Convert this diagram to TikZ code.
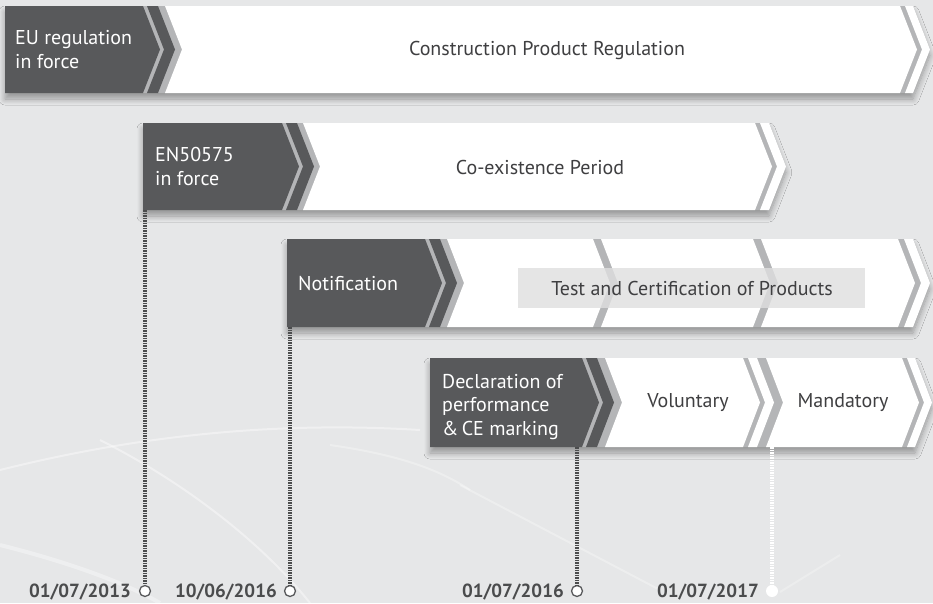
\documentclass[tikz,border=0pt]{standalone}
\usepackage{fontspec}
\setmainfont{PT Sans}
\usetikzlibrary{shadows.blur}
\definecolor{bg}{HTML}{E6E7E8}
\definecolor{dk}{HTML}{58595B}
\definecolor{gapc}{HTML}{B4B5B7}
\definecolor{txt}{HTML}{3F3F41}
\newcommand\segN[5]{\fill[#5] (#1,#3) -- (#2,#3) -- ({#2+17},{(#3+#4)/2}) -- (#2,#4) -- (#1,#4) -- ({#1+17},{(#3+#4)/2}) -- cycle;}
\newcommand\segF[5]{\fill[#5] (#1,#3) -- (#2,#3) -- ({#2+17},{(#3+#4)/2}) -- (#2,#4) -- (#1,#4) -- cycle;}
\newcommand\rowbg[4]{\fill[gapc, blur shadow={shadow xshift=0pt, shadow yshift=-6pt, shadow blur radius=6pt, shadow blur steps=10, shadow opacity=35}] (#1,#3) -- (#2,#3) -- ({#2+17},{(#3+#4)/2}) -- (#2,#4) -- (#1,#4) -- cycle;}
\tikzset{
  lbl/.style={font=\fontsize{20}{23.5}\selectfont, inner sep=0pt},
  darklbl/.style={lbl, text=white, align=left, anchor=base west},
  lightlbl/.style={lbl, text=txt, anchor=center},
  datelbl/.style={font=\fontsize{19}{22}\selectfont\bfseries, text=dk!85!black, anchor=base east, inner sep=0pt},
  datedot/.style={circle, draw=dk, fill=white, line width=1.3pt, minimum size=11pt, inner sep=0pt},
  dotline/.style={dk!85!black, line width=3.2pt, dash pattern=on 1.7pt off 0.8pt},
  swoosh/.style={white, opacity=0.4, line width=2pt}
}
\begin{document}
\begin{tikzpicture}[x=1pt, y=-1pt]
\fill[bg] (0,0) rectangle (933,603);
\useasboundingbox (0,0) rectangle (933,603);
% background swooshes
\draw[swoosh] (0,470) .. controls (120,440) and (260,420) .. (420,430);
\draw[swoosh] (100,440) .. controls (180,480) and (260,540) .. (310,603);
\draw[swoosh, opacity=0.35, line width=4pt] (0,545) .. controls (60,560) and (120,580) .. (160,603);
\draw[swoosh, opacity=0.3] (330,445) .. controls (400,455) and (440,470) .. (470,490);
\draw[swoosh, opacity=0.3] (460,485) -- (660,590);
\draw[swoosh, opacity=0.25] (780,592) -- (840,555);
% row 1
\rowbg{5}{913}{6}{93}
\segF{5}{143}{6}{93}{dk}
\segN{147}{158}{6}{93}{dk}
\segN{165}{900}{6}{93}{white}
\segN{905}{913}{6}{93}{white}
% row 2
\rowbg{143}{769}{123}{210}
\segF{143}{282}{123}{210}{dk}
\segN{286}{297}{123}{210}{dk}
\segN{303}{755}{123}{210}{white}
\segN{760}{769}{123}{210}{white}
% row 3
\rowbg{287}{913}{239}{327}
\segF{287}{425}{239}{327}{dk}
\segN{429}{440}{239}{327}{dk}
\segN{447}{593}{239}{327}{white}
\segN{601}{753}{239}{327}{white}
\segN{761}{898}{239}{327}{white}
\segN{904}{913}{239}{327}{white}
% row 4
\rowbg{430}{915}{358}{447}
\segF{430}{582}{358}{447}{dk}
\segN{586}{597}{358}{447}{dk}
\segN{605}{743}{358}{447}{white}
\segN{748}{757}{358}{447}{white}
\segN{766}{902}{358}{447}{white}
\segN{907}{915}{358}{447}{white}
% test box
\fill[gray!25, opacity=0.8] (518,268) rectangle (865,308);
% labels
\node[darklbl] (eu) at (15,68) {EU regulation\\in force};
\node[lightlbl] (cpr) at (547,50) {Construction Product Regulation};
\node[darklbl] (en) at (155,185) {EN50575\\in force};
\node[lightlbl] (coex) at (540,167) {Co-existence Period};
\node[darklbl] (notif) at (298,290) {Notification};
\node[lightlbl] (test) at (692,288) {Test and Certification of Products};
\node[darklbl] (decl) at (442,435) {Declaration of\\performance\\\&\,CE marking};
\node[lightlbl] (vol) at (688,403) {Voluntary};
\node[lightlbl] (mand) at (843,403) {Mandatory};
% timeline
\coordinate (c1) at (145,210);
\coordinate (c2) at (290,327);
\coordinate (c3) at (577,447);
\coordinate (c4) at (772,447);
\node[datedot] (d1) at (145,591) {};
\node[datedot] (d2) at (290,591) {};
\node[datedot] (d3) at (577,591) {};
\node[circle, fill=white, minimum size=12pt, inner sep=0pt] (d4) at (772,591) {};
\draw[dotline] (c1) -- (d1.north);
\draw[dotline] (c2) -- (d2.north);
\draw[dotline] (c3) -- (d3.north);
\draw[dotline, white] (c4) -- (d4.north);
\node[datelbl] (t1) at (131,597) {01/07/2013};
\node[datelbl] (t2) at (277,597) {10/06/2016};
\node[datelbl] (t3) at (564,597) {01/07/2016};
\node[datelbl] (t4) at (759,597) {01/07/2017};
\end{tikzpicture}
\end{document}
